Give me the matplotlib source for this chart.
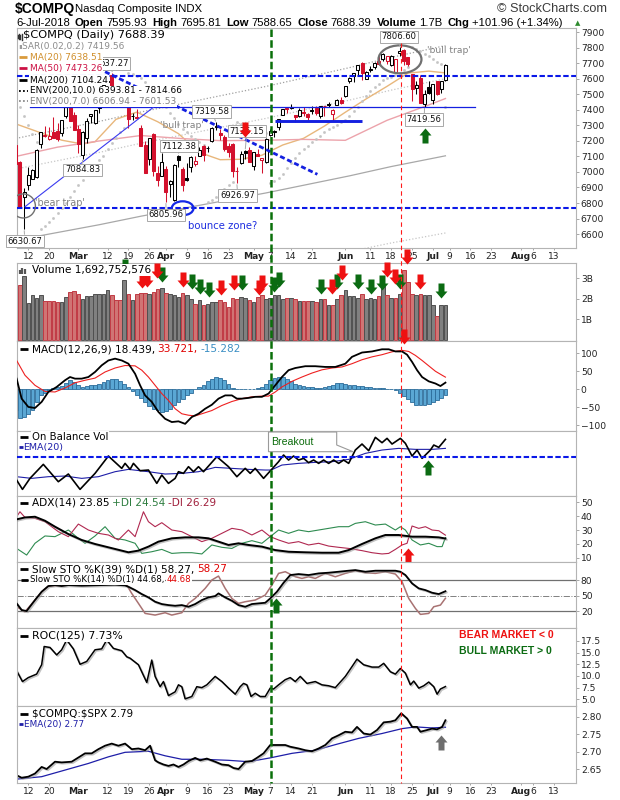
import numpy as np
import pandas as pd
import matplotlib
matplotlib.use("Agg")
import matplotlib.pyplot as plt
import matplotlib.patheffects as pe
import matplotlib.transforms as mtransforms
from matplotlib.path import Path
from matplotlib.patches import Ellipse, Polygon
from matplotlib.lines import Line2D

plt.rcParams['font.family'] = ['DejaVu Sans']
plt.rcParams['font.size'] = 7

# ---------------- data ----------------
holidays = pd.to_datetime(['2018-02-19', '2018-03-30', '2018-05-28', '2018-07-04'])
days = pd.bdate_range('2018-02-07', '2018-08-31')
days = days[~days.isin(holidays)]

prev_close = 7115.88  # 6 Feb close

opens = [7177, 7067, 6837, 6916, 6953, 6968, 7183, 7234, 7212, 7257, 7263, 7254, 7363, 7431, 7367,
         7280, 7110, 7218, 7363, 7313, 7410, 7472, 7579, 7623, 7543, 7507, 7484, 7434, 7358, 7355,
         7281, 7177, 7082, 7243, 6996, 6977,
         7016, 6924, 6820, 7104, 7017, 6960, 7030, 7054, 7106, 7166, 7153, 7200, 7292, 7253, 7226,
         7167, 7180, 7004, 7058, 7138, 7144,
         7038, 7114, 7077, 7063, 7238, 7258, 7291, 7368, 7413, 7419, 7367, 7360, 7385, 7372, 7399,
         7411, 7359, 7423, 7437, 7375, 7430, 7462,
         7490, 7587, 7619, 7658, 7705, 7600, 7661, 7675, 7713, 7727, 7713, 7692, 7644, 7769, 7784,
         7742, 7630, 7540, 7604, 7437, 7550,
         7464, 7587, 7532, 7596]
highs = [7218, 7071, 6898, 7034, 7016, 7145, 7256, 7297, 7290, 7352, 7315, 7337, 7422, 7447, 7384,
         7306, 7266, 7350, 7373, 7397, 7429, 7561, 7610, 7637, 7546, 7528, 7501, 7440, 7382, 7403,
         7304, 7199, 7221, 7254, 7040, 7122,
         7037, 6947, 7054, 7112, 7034, 7057, 7103, 7101, 7159, 7171, 7170, 7292, 7320, 7276, 7237,
         7187, 7185, 7029, 7132, 7140, 7158,
         7131, 7148, 7090, 7221, 7276, 7273, 7340, 7406, 7416, 7437, 7368, 7410, 7422, 7378, 7424,
         7425, 7427, 7426, 7451, 7407, 7470, 7481,
         7556, 7613, 7641, 7689, 7706, 7650, 7683, 7706, 7747, 7765, 7750, 7752, 7728, 7807, 7791,
         7743, 7631, 7588, 7628, 7526, 7587,
         7570, 7588, 7588, 7696]
lows = [7051, 6777, 6631, 6884, 6952, 6962, 7156, 7224, 7203, 7216, 7201, 7235, 7351, 7330, 7273,
        7123, 7085, 7186, 7317, 7307, 7380, 7452, 7567, 7491, 7474, 7462, 7470, 7284, 7338, 7340,
        7166, 6993, 7048, 6971, 6907, 6976,
        6806, 6836, 6814, 7032, 6878, 6939, 6997, 7040, 7101, 7073, 7127, 7192, 7271, 7209, 7135,
        7098, 6968, 6927, 7051, 7082, 7064,
        7015, 7100, 6992, 7058, 7233, 7226, 7269, 7365, 7378, 7406, 7319, 7355, 7359, 7338, 7373,
        7370, 7349, 7363, 7421, 7331, 7430, 7435,
        7486, 7575, 7580, 7625, 7590, 7597, 7644, 7664, 7691, 7717, 7695, 7684, 7644, 7750, 7690,
        7686, 7459, 7501, 7444, 7420, 7502,
        7440, 7499, 7510, 7589]
closes = [7052, 6777, 6874, 6982, 7014, 7144, 7256, 7239, 7234, 7218, 7210, 7337, 7421, 7330, 7273,
          7181, 7258, 7331, 7372, 7397, 7428, 7561, 7588, 7511, 7497, 7482, 7482, 7344, 7364, 7345,
          7167, 6993, 7221, 7009, 6949, 7063,
          6870, 6941, 7042, 7077, 6915, 6950, 7094, 7069, 7140, 7107, 7156, 7281, 7295, 7238, 7146,
          7129, 7007, 7004, 7119, 7120, 7066,
          7131, 7101, 7088, 7210, 7265, 7267, 7340, 7405, 7403, 7411, 7352, 7398, 7382, 7354, 7394,
          7378, 7426, 7424, 7434, 7397, 7462, 7442,
          7554, 7606, 7638, 7689, 7635, 7646, 7660, 7704, 7696, 7761, 7746, 7747, 7726, 7782, 7713,
          7693, 7532, 7562, 7445, 7504, 7510,
          7568, 7503, 7586, 7688.39]
volume_b = [2.33, 2.66, 3.10, 1.80, 2.17, 2.06, 2.17, 1.89, 1.89, 1.89,
            1.84, 1.84, 2.09, 2.33, 2.36, 2.22, 2.01, 2.12, 2.12, 2.22,
            2.25, 2.25, 2.41, 2.17, 1.93, 1.92, 2.90, 2.25, 1.92, 2.25,
            2.30, 2.30, 2.25, 2.34, 2.46, 2.53, 2.30, 2.25, 2.17, 2.09,
            2.30, 2.17, 2.01, 1.76, 1.93, 1.71, 1.76, 1.84, 1.84, 1.93,
            1.84, 1.60, 2.04, 2.01, 2.09, 2.04, 1.96, 1.84, 2.09, 2.20,
            1.97, 2.04, 2.17, 2.17, 1.97, 2.04, 2.04, 2.01, 1.90, 1.88,
            1.90, 1.90, 1.84, 1.97, 1.97, 1.68, 1.68, 1.97, 2.17, 2.41,
            2.14, 2.14, 2.04, 2.25, 1.97, 2.04, 1.97, 2.14, 2.62, 2.17,
            2.04, 2.04, 2.25, 3.39, 2.82, 2.25, 2.17, 2.25, 2.20, 2.17,
            1.71, 1.16, 1.68, 1.69]
sar = [7470, 7420, 7360, 7300, 7245, 7195, 6631, 6650, 6675, 6705,
       6735, 6765, 6800, 6840, 6880, 6915, 6950, 6985, 7015, 7045,
       7075, 7105, 7145, 7185, 7220, 7255, 7285, 7637, 7630, 7620,
       7605, 7580, 7550, 7520, 7490, 7455, 7420, 7380, 7345, 7310,
       7280, 7255, 7230, 7210, 7190, 7175, 6806, 6820, 6840, 6865,
       6890, 6915, 6935, 7320, 7310, 7300, 7290, 7280, 7270, 7260,
       7250, 6927, 6940, 6960, 6990, 7025, 7060, 7090, 7120, 7145,
       7170, 7195, 7215, 7235, 7255, 7275, 7290, 7305, 7320, 7335,
       7360, 7390, 7420, 7455, 7490, 7520, 7545, 7570, 7590, 7605,
       7615, 7625, 7640, 7660, 7675, 7807, 7795, 7780, 7762, 7745,
       7728, 7712, 7698, 7419.56]

ma20_day = [0, 5, 11, 16, 19, 24, 29, 34, 39, 44, 49, 54, 59, 64, 69, 74, 79, 84, 89, 94, 99, 103]
ma20_val = [7310, 7262, 7205, 7180, 7195, 7339, 7386, 7324, 7247, 7126, 7079, 7082, 7108, 7174,
            7217, 7296, 7385, 7471, 7552, 7637, 7650, 7638.5]
ma50_day = [0, 10, 20, 30, 40, 49, 59, 69, 79, 89, 99, 103]
ma50_val = [7100, 7160, 7200, 7235, 7215, 7202, 7204, 7210, 7204, 7333, 7432, 7473.3]
ma200_day = [0, 10, 20, 30, 40, 50, 60, 70, 80, 90, 103]
ma200_val = [6560, 6610, 6660, 6715, 6765, 6815, 6865, 6920, 6975, 7035, 7104.2]

macd_day = [0.2, 1.4, 3.0, 4.6, 6.2, 7.8, 9.8, 11.8, 13.0, 14.2, 15.8, 17.4, 19.0, 20.6, 22.2, 23.8,
            25.4, 27.0, 28.6, 29.8, 31.0, 32.6, 34.2, 35.8, 37.4, 39.0, 40.6, 42.2, 43.8, 45.4, 47.0,
            48.6, 50.2, 51.8, 53.0, 54.2, 55.8, 57.4, 59.0, 60.6, 62.2, 63.8, 65.4, 67.0, 69.4, 71.8,
            74.2, 76.6, 79.0, 80.6, 83.0, 85.4, 87.8, 89.4, 91.0, 92.6, 93.8, 95.0, 96.2, 97.4, 99.0,
            100.6, 101.8, 103.0]
macd_val = [29.5, -26, -49, -52, -35, -7.5, 6.4, 25, 34, 29.5, 29.5, 34, 48, 66.5, 80, 85,
            80, 71, 43, 11, -17, -35, -63, -82, -91, -89, -96, -77, -68, -54, -43,
            -26, -17, -17, -26, -26, -24, -21, -21, -12, 11, 34, 53, 59, 64, 64,
            62, 62, 71, 90, 102, 105, 111, 111, 105, 105, 96, 76, 53, 34, 22,
            16, 9, 18.4]
signal_day = [0.2, 2.2, 4.6, 7.0, 9.4, 11.8, 14.2, 16.6, 19.0, 21.4, 23.8, 26.2, 28.6, 30.2, 31.8,
              33.4, 35.0, 36.6, 38.2, 39.8, 41.4, 43.0, 44.6, 47.0, 49.4, 51.8, 54.2, 56.6, 59.0,
              60.6, 62.2, 63.8, 66.2, 68.6, 71.0, 73.4, 75.8, 78.2, 80.6, 83.0, 85.4, 87.8, 90.2,
              92.6, 94.2, 95.8, 97.4, 99.0, 100.6, 102.2, 103.0]
signal_val = [80, 39, 11, -6, -7.5, 3.6, 18, 25, 31, 48, 59, 66, 65, 53, 34,
              11, -12, -31, -54, -68, -72, -74, -68, -59, -45, -34, -26, -21, -19,
              -19, -7.5, 6.4, 22, 34, 45, 54, 59, 62, 71, 82, 90, 96, 104,
              108, 105, 94, 80, 65, 50, 39, 33.7]
macd_hist = [-58, -80, -77, -68, -58, -35, -17, -9, -3, 3.6,
             5.5, 9, 18, 25, 20, 11, 6.4, 9, 11, 13,
             16, 20, 25, 29.5, 27.6, 22, 16, 6.4, -6, -17,
             -24, -34, -46, -54, -58, -63, -61, -54, -45, -35,
             -26, -17, -9, 0, 6.4, 13, 22, 29.5, 33, 31,
             25, 16, 3.6, 0, 1, 1, 2, 2, 3.6, 6.4,
             16, 25, 31, 34, 33, 29.5, 22, 16, 11, 9,
             6.4, 6.4, 3.6, 3.6, 5.5, 9, 13, 17, 18, 16,
             13, 11, 9, 8, 6.4, 5.5, 4.6, 3.6, 3.6, 2,
             0, -1, -9, -19, -28, -35, -43, -45, -43, -40,
             -35, -31, -24, -15.3]

# On Balance Volume (relative scale, no axis labels on the chart)
obv_day = [0.2, 1.6, 3.4, 6.6, 10.2, 12.6, 15.4, 19.0, 22.2, 25.4, 26.2, 27.4, 28.2, 29.8, 31.8,
           33.8, 35.0, 36.6, 38.2, 39.0, 40.2, 41.4, 42.6, 43.8, 45.0, 48.2, 51.0, 53.0, 55.0,
           56.2, 57.4, 59.4, 61.2, 63.0, 64.2, 65.4, 66.6, 67.8, 69.0, 70.2, 71.4, 72.6, 73.8,
           75.0, 76.2, 77.4, 78.6, 79.8, 81.4, 83.0, 84.6, 86.2, 87.8, 89.0, 90.2, 92.2, 93.4,
           95.0, 96.2, 97.4, 99.4, 100.2, 101.4, 103.0]
obv_val = [4.7, 1.9, 5.2, 9.4, 4.2, 6.5, 1.9, 6.7, 11.9, 8.2, 9.7, 7.9, 9.7, 7.5, 7.7,
           3.7, 6.2, 3.7, 5.2, 7.2, 6.7, 8.7, 7.2, 8.7, 7.2, 11.7, 8.7, 5.7, 8.2,
           6.7, 8.2, 5.2, 7.7, 10.2, 12.2, 10.7, 11.9, 10.7, 11.2, 9.9, 10.7, 9.7, 10.7,
           9.7, 10.7, 9.7, 10.7, 9.7, 13.7, 15.5, 13.5, 17.5, 15.9, 17.2, 15.5, 17.2, 15.7,
           11.9, 13.7, 11.2, 13.7, 15.2, 14.5, 16.9]
obv_ema_day = [0.2, 3.8, 7.8, 11.8, 15.8, 19.8, 23.8, 27.0, 31.8, 35.8, 39.8, 43.8, 47.8, 51.8,
               55.8, 59.8, 61.2, 63.8, 67.8, 71.8, 75.8, 79.8, 83.8, 87.8, 91.8, 95.8, 99.8, 103.0]
obv_ema_val = [5.7, 5.2, 5.7, 5.9, 5.2, 5.7, 7.2, 7.9, 7.2, 6.5, 6.7, 7.2, 8.5, 8.2,
               7.9, 7.7, 7.7, 9.2, 9.7, 10.0, 10.2, 10.9, 12.7, 13.7, 14.2, 13.9, 13.9, 14.2]
obv_level = 11.7

adx_day = [0.2, 2.2, 4.6, 7.0, 9.4, 12.6, 15.8, 19.0, 22.2, 25.4, 27.0, 29.4, 31.8, 34.2, 37.4,
           40.6, 43.8, 46.2, 48.6, 51.0, 53.4, 55.8, 59.0, 62.2, 65.4, 69.4, 73.4, 77.4, 79.8,
           83.0, 86.2, 88.6, 91.8, 95.0, 98.2, 101.4, 103.0]
adx_val = [37.7, 39.1, 39.6, 36.7, 32.4, 27.1, 22.8, 19.9, 17.5, 15.1, 13.9, 15.1, 18.0, 21.6, 24.0,
           24.7, 24.7, 24.0, 21.6, 19.2, 20.4, 19.2, 18.0, 15.5, 14.3, 13.9, 13.6, 13.6, 15.5,
           19.9, 24.0, 26.4, 26.4, 25.2, 25.2, 24.7, 23.85]
pdi_day = [0.2, 2.6, 4.6, 7.0, 9.4, 12.6, 15.0, 16.6, 19.0, 21.4, 23.8, 26.2, 28.6, 30.2, 32.6,
           35.0, 37.4, 39.8, 42.2, 44.6, 47.0, 49.4, 51.8, 54.2, 56.6, 59.0, 61.0, 63.0, 65.4,
           67.8, 70.2, 72.6, 75.0, 77.4, 79.8, 81.4, 83.8, 86.2, 88.6, 91.0, 92.2, 93.4, 95.0,
           97.0, 99.0, 101.0, 102.2, 103.0]
pdi_val = [16.7, 11.9, 20.4, 25.7, 25.2, 30.0, 24.0, 20.4, 25.7, 32.4, 24.0, 22.8, 20.4, 13.1, 14.3,
           16.0, 13.1, 13.6, 13.6, 12.7, 19.2, 17.5, 16.7, 20.4, 22.3, 20.4, 25.2, 30.0, 27.6,
           30.0, 28.8, 30.0, 31.2, 32.4, 32.4, 34.8, 36.0, 33.6, 34.3, 30.0, 32.4, 30.0, 22.8,
           19.2, 20.4, 18.0, 18.0, 24.54]
mdi_day = [0.2, 1.0, 2.2, 4.6, 7.0, 10.2, 12.6, 15.0, 17.4, 19.8, 22.2, 24.6, 27.0, 28.6, 30.6,
           31.8, 33.4, 35.0, 37.4, 39.8, 42.2, 44.6, 47.0, 49.4, 51.8, 54.2, 56.6, 59.0, 61.0,
           63.0, 65.4, 67.8, 70.2, 72.6, 75.0, 77.4, 79.8, 83.0, 85.4, 87.8, 89.4, 91.0, 92.6,
           93.8, 95.0, 96.6, 98.2, 99.8, 101.4, 103.0]
mdi_val = [39.6, 43.2, 39.1, 38.4, 36.0, 28.8, 25.2, 34.3, 30.0, 27.6, 26.4, 22.8, 30.0, 25.2, 43.2,
           36.0, 32.4, 35.3, 30.0, 28.8, 25.2, 21.6, 24.0, 27.6, 31.2, 30.0, 26.4, 30.0, 25.2,
           22.8, 20.4, 21.6, 19.2, 20.4, 18.4, 17.5, 16.7, 15.1, 13.6, 12.7, 13.1, 16.0, 19.2,
           20.4, 32.9, 31.2, 32.4, 30.0, 29.5, 26.29]

sto39_day = [0.2, 1.4, 2.6, 4.6, 6.2, 7.8, 9.4, 11.0, 12.6, 15.8, 19.8, 23.8, 26.2, 27.0, 28.6,
             30.2, 31.8, 33.4, 35.0, 36.6, 38.2, 39.8, 41.4, 43.0, 44.6, 46.2, 47.8, 48.6, 50.2,
             51.8, 53.4, 55.0, 56.6, 58.2, 59.8, 61.0, 62.6, 64.2, 65.8, 67.8, 70.2, 72.6, 75.0,
             77.4, 79.8, 81.4, 83.8, 86.2, 88.6, 91.0, 92.2, 93.4, 95.0, 96.6, 98.2, 99.8, 101.4,
             103.0]
sto39_val = [34.8, 21.9, 20, 41.2, 57.3, 68.3, 70.2, 68.3, 70.2, 69, 70, 71, 69.5, 67, 60.5,
             52.8, 46.4, 38, 33.5, 31.5, 30.2, 31.5, 28.3, 33.5, 41.2, 46.4, 49, 54.1, 46.4,
             39.9, 31.5, 28.3, 33.5, 34.8, 36, 44.4, 57.3, 74.7, 89.6, 91.5, 89.6, 92.8, 94.1,
             96, 98, 99.2, 96, 98, 98, 98, 96, 89.6, 73.4, 63.8, 60.5, 55.4, 52.8,
             58.27]
sto14_day = [0.2, 2.2, 4.6, 6.2, 7.8, 12.6, 16.0, 20.0, 23.8, 26.6, 27.8, 29.4, 31.0, 33.4, 35.8,
             37.4, 39.8, 41.4, 43.0, 44.2, 45.4, 47.0, 48.6, 50.2, 51.8, 53.4, 55.0, 57.4, 59.8,
             61.4, 63.0, 64.6, 67.0, 68.6, 70.2, 71.8, 74.2, 76.6, 79.0, 81.4, 83.8, 86.2, 88.6,
             91.0, 92.6, 94.2, 95.8, 97.0, 99.0, 100.2, 101.8, 103.0]
sto14_val = [28.3, 18.6, 41, 57, 68, 70, 72, 80, 78, 70.2, 54, 34.8, 15.4, 12.2, 16.7,
             12.2, 16.7, 34.8, 44.4, 54.1, 63.8, 80, 87.6, 63.8, 44.4, 34.8, 38, 41.2, 50.9,
             70.2, 92.8, 96, 86.3, 83.1, 86.3, 83.1, 92.8, 86.3, 92.8, 98, 94.1, 92.8, 96,
             91.5, 76.7, 44.4, 25.1, 13.5, 15.4, 28.3, 31.5, 44.68]

roc_day = [0.2, 1.6, 3.0, 5.0, 6.2, 6.8, 8.2, 9.8, 11.0, 12.2, 13.8, 15.4, 17.0, 19.0, 20.6, 21.8,
           23.4, 25.4, 26.6, 27.4, 29.4, 31.4, 32.6, 33.4, 34.6, 35.4, 36.6, 38.2, 39.0, 39.8,
           40.6, 42.2, 43.4, 44.6, 45.8, 47.8, 49.4, 51.0, 52.6, 53.8, 54.6, 55.4, 56.4, 57.4,
           58.6, 59.8, 61.0, 61.8, 63.0, 64.6, 65.8, 67.0, 68.2, 69.8, 71.8, 73.4, 75.0, 76.6,
           79.0, 80.6, 81.8, 83.4, 85.4, 87.0, 88.2, 89.8, 91.0, 92.2, 93.4, 94.6, 95.4, 96.6,
           97.8, 99.0, 100.2, 101.0, 101.8, 103.0]
roc_val = [11.1, 8.8, 9.65, 10.4, 12.4, 16.3, 16.1, 14.5, 15.6, 17.7, 15.8, 12.5, 13.1, 15.6, 15.8, 17.7,
           15.9, 15.4, 14.1, 13.8, 12.4, 8.6, 13.4, 9.9, 7.7, 8.8, 5.8, 6.6, 8.1, 7.7,
           5.1, 5.6, 7.7, 7.5, 8.1, 9.9, 8.8, 7.4, 6.1, 7.7, 8.4, 8.1, 5.6, 6.3,
           5.6, 5.6, 7.4, 7.2, 8.1, 9.2, 9.65, 8.8, 9.9, 8.4, 8.8, 8.1, 7.9, 7.5,
           9.9, 12.0, 13.6, 12.4, 11.9, 11.9, 12.7, 10.9, 10.4, 11.6, 10.6, 8.1, 8.9, 7.4,
           7.9, 8.7, 7.7, 6.1, 7.2, 7.73]

ratio_day = [0.2, 1.4, 3.0, 4.6, 6.2, 7.4, 9.4, 11.0, 13.4, 14.6, 16.6, 18.2, 19.8, 21.4, 23.0,
             24.6, 26.2, 27.8, 29.4, 31.0, 32.2, 33.4, 34.2, 35.4, 36.6, 37.8, 39.0, 40.2, 41.4,
             43.0, 44.2, 45.8, 47.8, 49.4, 51.0, 52.2, 53.4, 55.0, 56.6, 57.8, 59.4, 61.0, 63.0,
             64.6, 65.8, 67.8, 69.4, 71.0, 72.6, 74.2, 75.8, 77.4, 79.0, 80.6, 81.8, 83.4, 85.0,
             86.6, 88.2, 89.8, 91.0, 92.4, 93.8, 95.0, 96.2, 97.0, 98.6, 99.8, 101.0, 102.2, 103.0]
ratio_val = [2.632, 2.625, 2.628, 2.637, 2.656, 2.650, 2.671, 2.669, 2.671, 2.680, 2.695, 2.695,
             2.707, 2.717, 2.723, 2.717, 2.723, 2.707, 2.709, 2.704, 2.717, 2.675, 2.669, 2.663,
             2.659, 2.663, 2.656, 2.663, 2.673, 2.682, 2.675, 2.680, 2.671, 2.663, 2.661, 2.653,
             2.650, 2.671, 2.673, 2.682, 2.695, 2.719, 2.719, 2.719, 2.714, 2.709, 2.704, 2.701,
             2.709, 2.719, 2.738, 2.747, 2.757, 2.755, 2.771, 2.752, 2.749, 2.762, 2.784, 2.786,
             2.790, 2.810, 2.795, 2.771, 2.771, 2.757, 2.762, 2.766, 2.764, 2.771, 2.79]
ratio_ema_day = [0.2, 6.2, 11.8, 17.4, 22.2, 26.2, 31.8, 35.8, 39.8, 44.6, 51.0, 55.8, 61.0, 66.2,
                 71.8, 76.6, 82.2, 87.8, 92.6, 95.8, 99.8, 103.0]
ratio_ema_val = [2.621, 2.628, 2.647, 2.666, 2.685, 2.698, 2.701, 2.688, 2.678, 2.678, 2.675,
                 2.671, 2.682, 2.695, 2.704, 2.720, 2.738, 2.752, 2.766, 2.771, 2.768, 2.77]

# author's arrows (day, value at the arrow tip)
vol_green_day = [26.2, 35.0, 42.2, 44.2, 46.2, 54.2, 61.8, 63.0, 73.2, 77.0, 82.0, 85.2, 87.9, 92.1, 102.0]
vol_green_val = [3.22, 2.82, 2.49, 2.25, 2.09, 2.41, 2.33, 2.58, 2.25, 2.49, 2.49, 2.25, 2.41, 2.49, 2.04]
vol_red_day = [30.2, 31.4, 33.8, 40.2, 49.2, 52.2, 58.2, 59.1, 75.8, 78.3, 89.0, 91.0, 93.7, 97.0]
vol_red_val = [2.53, 2.58, 3.00, 2.58, 2.17, 2.41, 2.17, 2.41, 2.25, 2.90, 3.06, 2.74, 3.69, 2.49]

tick_dates = ['2018-02-12', '2018-02-20', '2018-03-01', '2018-03-12', '2018-03-19', '2018-03-26',
              '2018-04-02', '2018-04-09', '2018-04-16', '2018-04-23', '2018-05-01', '2018-05-07',
              '2018-05-14', '2018-05-21', '2018-06-01', '2018-06-11', '2018-06-18', '2018-06-25',
              '2018-07-02', '2018-07-09', '2018-07-16', '2018-07-23', '2018-08-01', '2018-08-06',
              '2018-08-13']
tick_text = ['12', '20', 'Mar', '12', '19', '26', 'Apr', '9', '16', '23', 'May', '7', '14', '21',
             'Jun', '11', '18', '25', 'Jul', '9', '16', '23', 'Aug', '6', '13']
months = {'Mar', 'Apr', 'May', 'Jun', 'Jul', 'Aug'}

# ---------------- layout ----------------
W, H = 620, 800
L, R = 17, 576
XL = (0.29, 134.3)
RED = '#d3112d'
GREEN_ARROW = '#0b6b12'

fig = plt.figure(figsize=(W / 100, H / 100), dpi=100)


def panel(top, bottom):
    return fig.add_axes([L / W, 1 - bottom / H, (R - L) / W, (bottom - top) / H])


ax_p = panel(28.3, 247.7)
ax_v = panel(263.3, 341)
ax_m = panel(341, 430.7)
ax_o = panel(430.7, 495.7)
ax_a = panel(495.7, 561.7)
ax_s = panel(561.7, 628.3)
ax_r = panel(628.3, 706)
ax_c = panel(706, 783.3)
axes = [ax_p, ax_v, ax_m, ax_o, ax_a, ax_s, ax_r, ax_c]

tick_pos = [days.get_loc(pd.Timestamp(d)) for d in tick_dates]

for ax in axes:
    ax.set_xlim(*XL)
    for sp in ax.spines.values():
        sp.set_color('#b4b4b4')
        sp.set_linewidth(0.8)
    ax.yaxis.tick_right()
    ax.tick_params(axis='y', length=2, width=0.6, pad=1.5, labelsize=6.6, color='#999999',
                   labelcolor='#222222')
    ax.set_xticks(tick_pos)
    ax.tick_params(axis='x', length=0, labelbottom=False)

for ax in (ax_p, ax_c):
    ax.set_xticklabels(tick_text)
    ax.tick_params(axis='x', length=1.5, width=0.6, color='#999999', pad=1.5,
                   labelbottom=True, labelsize=6.6, labelcolor='#222222')
    for t in ax.get_xticklabels():
        if t.get_text() in months:
            t.set_fontweight('bold')

# down / up block arrows as markers, tip at the data point
_dn = [(0, 0), (6, 7), (3, 7), (3, 15), (-3, 15), (-3, 7), (-6, 7), (0, 0)]
DOWN = Path(_dn, closed=True)
UP = Path([(a, -b) for a, b in _dn], closed=True)


def arrows(ax, xs, ys, path, color, ms=21.6):
    ax.plot(xs, ys, ls='none', marker=path, ms=ms, mfc=color, mec='none', clip_on=False, zorder=8)


shadow = [pe.SimpleLineShadow(offset=(0.9, -0.9), shadow_color='#9a9a9a', alpha=0.6), pe.Normal()]

# ---------------- price panel ----------------
o, h, l, c = map(np.array, (opens, highs, lows, closes))
x = np.arange(len(c))
pc = np.r_[prev_close, c[:-1]]
col = np.where(c < pc, RED, '#000000')
face = np.where(c > o, '#ffffff', col)

ma200 = np.array(ma200_val)
ax_p.plot(ma200_day, ma200, color='#a8a8a8', lw=0.9, zorder=2)
ax_p.plot(ma200_day, ma200 * 1.10, color='#a0a0a0', lw=0.9, ls=(0, (1, 1.6)), zorder=2)
ax_p.plot(ma200_day, ma200 * 1.07, color='#c6c6c6', lw=0.9, ls=(0, (1, 1.6)), zorder=2)
ax_p.plot(ma200_day, ma200 * 0.93, color='#c6c6c6', lw=0.9, ls=(0, (1, 1.6)), zorder=2)
ax_p.plot(ma20_day, ma20_val, color='#e8b77c', lw=1.0, zorder=2)
ax_p.plot(ma50_day, ma50_val, color='#eca3ab', lw=1.0, zorder=2)
ax_p.plot(x, sar, ls='none', marker='s', ms=0.9, color='#c4c4c4', zorder=2)

ax_p.vlines(x, l, h, colors=list(col), lw=0.75, zorder=3)
ax_p.bar(x, np.maximum(np.abs(c - o), 3), bottom=np.minimum(o, c), width=0.72,
         color=list(face), edgecolor=list(col), linewidth=0.75, zorder=4)

ax_p.set_ylim(6512, 7926)
ax_p.set_yticks(range(6600, 8000, 100))

BLUE = '#0a18e8'
ax_p.axhline(7620, color=BLUE, lw=1.5, ls=(0, (2.6, 1.2)), zorder=5)
ax_p.axhline(6770, color=BLUE, lw=1.5, ls=(0, (2.6, 1.2)), zorder=5)
ax_p.plot([3.4, 110.0], [7420, 7420], color='#1420e0', lw=0.9, zorder=5)
ax_p.plot([62.2, 82.9], [7331, 7331], color='#1420e0', lw=2.1, zorder=5, solid_capstyle='butt')
ax_p.plot([2.2, 33.0], [6776, 7417], color='#3a3af0', lw=0.8, zorder=5)
ax_p.plot([21.4, 72.3], [7646, 6985], color='#1420e0', lw=2.0, ls=(0, (1.8, 1.0)), zorder=5)

ax_p.add_patch(Ellipse((1.8, 6781), 5.8, 155, fill=False, ec='#707070', lw=1.0, zorder=6))
ax_p.add_patch(Ellipse((40.0, 6766), 5.2, 90, fill=False, ec='#1428e6', lw=1.6, zorder=6))
ax_p.add_patch(Ellipse((92.1, 7726), 10.3, 180, fill=False, ec='#707070', lw=1.6, zorder=6))

ax_p.text(4.6, 6798, "'bear trap'", color='#808080', fontsize=6.9, va='center', zorder=6)
ax_p.text(34.6, 7302, "'bull trap'", color='#808080', fontsize=6.6, va='center', zorder=6)
ax_p.text(98.5, 7781, "'bull trap'", color='#808080', fontsize=6.6, va='center', zorder=6)
ax_p.text(41.3, 6652, 'bounce zone?', color='#1e2ee0', fontsize=7.3, va='center', zorder=6)

price_marks = [("7806.60", 92, 7806.6, 91.9, 7870), ("637.27", 23, 7637.27, 23.5, 7700),
               ("7319.58", 48, 7319.58, 47.0, 7390), ("7112.38", 39, 7112.38, 39.1, 7167),
               ("7084.83", 16, 7084.83, 16.0, 7013), ("6926.97", 53, 6926.97, 53.2, 6848),
               ("6805.96", 36, 6805.96, 36.0, 6723), ("6630.67", 2, 6630.67, 2.2, 6555),
               ("7419.56", 98, 7419.56, 97.9, 7338), ("7135.15", 55, 7140, 55.4, 7264)]
for s, px_, py_, tx, ty in price_marks:
    ax_p.annotate(s, xy=(px_, py_), xytext=(tx, ty), ha='center', va='center', fontsize=6.1,
                  color='#111111', zorder=7, annotation_clip=False,
                  bbox=dict(boxstyle='square,pad=0.22', fc='white', ec='#a8a8a8', lw=0.7),
                  arrowprops=dict(arrowstyle='-', color='#a8a8a8', lw=0.7, shrinkA=0, shrinkB=1))

arrows(ax_p, [55.0], [7223], DOWN, '#ee1111')
arrows(ax_p, [98.1], [7281], UP, GREEN_ARROW)

# ---------------- volume ----------------
vcol = np.where(c < pc, '#d07474', '#808080')
vedge = np.where(c < pc, '#c03a44', '#505050')
ax_v.bar(x, volume_b, width=0.86, color=list(vcol), edgecolor=list(vedge), linewidth=0.7, zorder=2)
ax_v.set_ylim(-0.06, 3.73)
ax_v.set_yticks([1, 2, 3])
ax_v.set_yticklabels(['1B', '2B', '3B'])
arrows(ax_v, vol_green_day, vol_green_val, DOWN, GREEN_ARROW)
arrows(ax_v, vol_red_day, vol_red_val, DOWN, '#ee1111')

# ---------------- MACD ----------------
ax_m.bar(x, macd_hist, width=0.9, color='#5aa7d4', edgecolor='#2b6c9a', linewidth=0.6, zorder=2)
ax_m.plot(signal_day, signal_val, color='#ee2020', lw=0.8, zorder=3)
ax_m.plot(macd_day, macd_val, color='#000000', lw=1.3, zorder=4)
ax_m.set_ylim(-115, 134)
ax_m.set_yticks([-100, -50, 0, 50, 100])
arrows(ax_m, [93.0], [127], DOWN, '#ee1111')

# ---------------- OBV ----------------
ax_o.plot(obv_ema_day, obv_ema_val, color='#1e1ea8', lw=0.8, zorder=2)
ax_o.plot(obv_day, obv_val, color='#000000', lw=1.2, zorder=3)
ax_o.axhline(obv_level, color=BLUE, lw=1.5, ls=(0, (2.6, 1.2)), zorder=4)
ax_o.set_ylim(0, 19.5)
ax_o.set_yticks([])
arrows(ax_o, [98.9], [10.7], UP, GREEN_ARROW)

# ---------------- ADX ----------------
ax_a.plot(pdi_day, pdi_val, color='#2e8b50', lw=0.8, zorder=2)
ax_a.plot(mdi_day, mdi_val, color='#b02850', lw=0.8, zorder=2)
ax_a.plot(adx_day, adx_val, color='#000000', lw=1.4, zorder=3, path_effects=shadow)
ax_a.set_ylim(7.1, 54.8)
ax_a.set_yticks([10, 20, 30, 40, 50])
arrows(ax_a, [94.0], [16.8], UP, '#ee1111')

# ---------------- Slow STO ----------------
ax_s.axhline(80, color='#707070', lw=0.9)
ax_s.axhline(20, color='#707070', lw=0.9)
ax_s.axhline(50, color='#808080', lw=0.7, ls='-.')
ax_s.plot(sto14_day, sto14_val, color='#a87272', lw=1.1, zorder=2)
ax_s.plot(sto39_day, sto39_val, color='#000000', lw=1.3, zorder=3, path_effects=shadow)
ax_s.set_ylim(-13.4, 115.4)
ax_s.set_yticks([20, 50, 80])
arrows(ax_s, [62.4], [44.5], UP, GREEN_ARROW)

# ---------------- ROC ----------------
ax_r.plot(roc_day, roc_val, color='#000000', lw=1.1, path_effects=shadow)
ax_r.set_ylim(3.57, 20.2)
ax_r.set_yticks([5, 7.5, 10, 12.5, 15, 17.5])
ax_r.set_yticklabels(['5.0', '7.5', '10.0', '12.5', '15.0', '17.5'])

# ---------------- $COMPQ:$SPX ----------------
ax_c.plot(ratio_ema_day, ratio_ema_val, color='#1e1ea8', lw=0.9)
ax_c.plot(ratio_day, ratio_val, color='#000000', lw=1.3, path_effects=shadow)
ax_c.set_ylim(2.609, 2.831)
ax_c.set_yticks([2.65, 2.70, 2.75, 2.80])
ax_c.set_yticklabels(['2.65', '2.70', '2.75', '2.80'])
arrows(ax_c, [102.0], [2.7474], UP, '#6e6e6e')

# ---------------- vertical event lines (through all panels) ----------------
trans = mtransforms.blended_transform_factory(ax_p.transData, fig.transFigure)
fig.add_artist(Line2D([61.1, 61.1], [1 - 28.8 / H, 1 - 783 / H], transform=trans,
                      color='#0a700a', lw=1.8, ls=(0, (3, 1.3)), zorder=1))
fig.add_artist(Line2D([92.3, 92.3], [1 - 43 / H, 1 - 783 / H], transform=trans,
                      color='#ff1a1a', lw=0.8, ls=(0, (4, 3)), zorder=1))


# ---------------- texts ----------------
def ftext(px, py, s, **kw):
    kw.setdefault('va', 'center')
    return fig.text(px / W, 1 - py / H, s, **kw)


rend = fig.canvas.get_renderer()


def chain(px, py, parts, gap=2.8, **kw):
    for s, colr in parts:
        t = ftext(px, py, s, color=colr, **kw)
        px += t.get_window_extent(rend).width + gap
    return px


def dash(x0, x1, py, color, lw=2.0, ls='-'):
    fig.add_artist(Line2D([x0 / W, x1 / W], [1 - py / H] * 2, color=color, lw=lw, ls=ls,
                          solid_capstyle='butt', zorder=4))


WB = dict(facecolor='white', edgecolor='none', pad=0.6)
LS = 'Liberation Sans'

# header
ftext(15, 9, r'\$COMPQ', fontsize=10, fontweight='bold', family=LS)
ftext(75, 9.5, 'Nasdaq Composite INDX', fontsize=8.2, family=LS)
ftext(607, 9, '\u00a9 StockCharts.com', ha='right', fontsize=9.2, family=LS, color='#3c3c3c')
head = [('6-Jul-2018', 'normal', 5), ('Open', 'bold', 3), ('7595.93', 'normal', 5),
        ('High', 'bold', 3), ('7695.81', 'normal', 5), ('Low', 'bold', 3),
        ('7588.65', 'normal', 5), ('Close', 'bold', 3), ('7688.39', 'normal', 5),
        ('Volume', 'bold', 3), ('1.7B', 'normal', 5), ('Chg', 'bold', 3),
        ('+101.96 (+1.34%)', 'normal', 5)]
hx = 16
for s, wgt, g in head:
    t = ftext(hx, 23, s, fontsize=8.1, fontweight=wgt, family=LS)
    hx += t.get_window_extent(rend).width + g
ftext(575, 23, '\u25b2', fontsize=5, color='#2e8b2e')

# price legend
for k, hgt in enumerate([3, 5, 4, 6]):
    fig.add_artist(Line2D([(17.6 + 1.4 * k) / W] * 2, [1 - (36.5 + hgt / 2) / H, 1 - (36.5 - hgt / 2) / H],
                          color='#333333', lw=1.0, zorder=4))
ftext(23.3, 35, r'\$COMPQ (Daily) 7688.39', fontsize=8.2, bbox=WB)
ftext(18, 46, '\u25aa', fontsize=6, color='#9a9a9a')
ftext(22.5, 46, 'SAR(0.02,0.2) 7419.56', fontsize=6.5, color='#8c8c8c', bbox=WB)
dash(19, 27, 57.3, '#d99a3c')
ftext(30, 57.3, 'MA(20) 7638.51', fontsize=6.5, color='#d08f2c', bbox=WB)
dash(19, 27, 68.3, '#cc1144')
ftext(30, 68.3, 'MA(50) 7473.26', fontsize=6.5, color='#cc1144', bbox=WB)
dash(19, 27, 80, '#000000')
ftext(30, 80, 'MA(200) 7104.24', fontsize=6.5, color='#000000', bbox=WB)
dash(18.5, 28, 91, '#000000', lw=1.3, ls=(0, (1, 1.2)))
ftext(30, 91, 'ENV(200,10.0) 6393.81 - 7814.66', fontsize=6.5, color='#000000', bbox=WB)
dash(18.5, 28, 101.3, '#8c8c8c', lw=1.3, ls=(0, (1, 1.2)))
ftext(30, 101.3, 'ENV(200,7.0) 6606.94 - 7601.53', fontsize=6.5, color='#808080', bbox=WB)

# panel legends
for k, hgt in enumerate([4, 6, 5]):
    fig.add_artist(Line2D([(20 + 2.3 * k) / W] * 2, [1 - 274 / H, 1 - (274 - hgt) / H],
                          color='#555555', lw=1.6, solid_capstyle='butt', zorder=4))
ftext(31.7, 270.3, 'Volume 1,692,752,576', fontsize=7.6, bbox=WB)

dash(20, 28, 349.3, '#000000')
chain(31.7, 349.3, [('MACD(12,26,9) 18.439,', '#000000'), ('33.721,', '#e00000'),
                    ('-15.282', '#3b8fc4')], fontsize=7.6, bbox=WB)

dash(20, 28, 437.3, '#000000')
ftext(31.7, 437.3, 'On Balance Vol', fontsize=7.3, bbox=WB)
dash(19, 23.3, 447.5, '#1e1ea8')
ftext(23.5, 447.5, 'EMA(20)', fontsize=6.8, color='#1e1ea8', bbox=WB)

dash(20, 28, 502.7, '#000000')
chain(31.7, 502.7, [('ADX(14) 23.85', '#000000'), ('+DI 24.54', '#2e7d40'),
                    ('-DI 26.29', '#a0203c')], fontsize=7.6, bbox=WB)

dash(20, 28, 569, '#000000')
chain(31.7, 569, [('Slow STO %K(39) %D(1) 58.27,', '#000000'), ('58.27', '#e00000')],
      fontsize=7.5, bbox=WB)
dash(21, 28, 579.6, '#000000')
chain(30, 579.6, [('Slow STO %K(14) %D(1) 44.68,', '#000000'), ('44.68', '#e00000')],
      gap=2.2, fontsize=6.2, bbox=WB)

dash(20, 28, 635.7, '#000000')
ftext(31.7, 635.7, 'ROC(125) 7.73%', fontsize=7.8, bbox=WB)
ftext(459, 635, 'BEAR MARKET < 0', fontsize=7.5, fontweight='bold', color='#ee1111', family=LS)
ftext(459, 650.7, 'BULL MARKET > 0', fontsize=7.5, fontweight='bold', color='#0b6b12', family=LS)

dash(20, 28, 713.5, '#000000')
ftext(31.7, 713.5, r'\$COMPQ:\$SPX 2.79', fontsize=7.4, bbox=WB)
dash(19, 23.3, 724.3, '#1e1ea8')
ftext(23.5, 724.3, 'EMA(20) 2.77', fontsize=6.4, color='#1e1ea8', bbox=WB)

# Breakout call-out
box = [(268.5, 432), (336.7, 432), (336.7, 445), (353, 451.7), (268.5, 451.7)]
fig.add_artist(Polygon([(bx / W, 1 - by / H) for bx, by in box], closed=True,
                       transform=fig.transFigure, fc='white', ec='#9a9a9a', lw=0.8, zorder=2))
ftext(271.5, 441.8, 'Breakout', fontsize=7.6, color='#0b6b0b', family=LS)

fig.savefig('out.png', dpi=100)
